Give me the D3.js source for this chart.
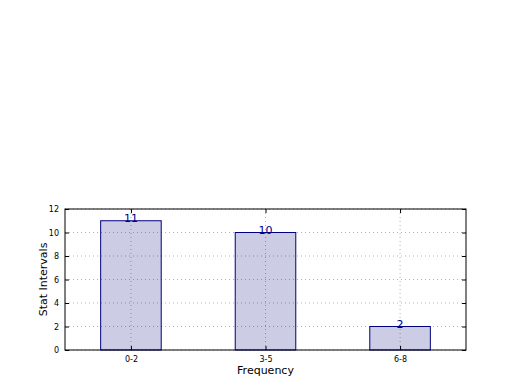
<!DOCTYPE html>
<html>
<head>
<meta charset="utf-8">
<script src="https://cdn.jsdelivr.net/npm/d3@7"></script>
<style>
  body { margin: 0; background: #fff; }
  svg { font-family: "DejaVu Sans", sans-serif; }
</style>
</head>
<body>
<div id="chart"></div>
<script>
var categories = ["0-2", "3-5", "6-8"];
var counts = [11, 10, 2];
var yTicks = [0, 2, 4, 6, 8, 10, 12];

var width = 520, height = 390;
var margin = {left: 65, right: 54, top: 209, bottom: 40};
var plotW = width - margin.left - margin.right;
var plotH = height - margin.top - margin.bottom;

var svg = d3.select("#chart")
  .append("svg")
  .attr("width", width)
  .attr("height", height);

var g = svg.append("g")
  .attr("transform", "translate(" + margin.left + "," + margin.top + ")");

var x = d3.scaleLinear().domain([-0.49, 2.49]).range([0, plotW]);
var y = d3.scaleLinear().domain([0, 12]).range([plotH, 0]);
var barW = 0.45;

// bars first, grid drawn over them (classic style)
g.selectAll(".bar")
  .data(counts)
  .enter()
    .append("rect")
      .attr("class", "bar")
      .attr("x", function(d, i) { return x(i - barW / 2); })
      .attr("y", function(d) { return y(d); })
      .attr("width", x(barW) - x(0))
      .attr("height", function(d) { return plotH - y(d); })
      .attr("fill", "#ccccE5")
      .attr("stroke", "#000080")
      .attr("stroke-width", 1);

// grid
g.selectAll(".hgrid")
  .data(yTicks)
  .enter()
    .append("line")
      .attr("x1", 0).attr("x2", plotW)
      .attr("y1", function(d) { return y(d); })
      .attr("y2", function(d) { return y(d); })
      .attr("stroke", "#000").attr("stroke-opacity", 0.3)
      .attr("stroke-dasharray", "1,3");

g.selectAll(".vgrid")
  .data(categories)
  .enter()
    .append("line")
      .attr("x1", function(d, i) { return x(i); })
      .attr("x2", function(d, i) { return x(i); })
      .attr("y1", 0).attr("y2", plotH)
      .attr("stroke", "#000").attr("stroke-opacity", 0.3)
      .attr("stroke-dasharray", "1,3");

// value labels
g.selectAll(".val")
  .data(counts)
  .enter()
    .append("text")
      .attr("x", function(d, i) { return x(i); })
      .attr("y", function(d) { return y(d) + 1; })
      .attr("text-anchor", "middle")
      .attr("font-size", "11px")
      .attr("fill", "#00008b")
      .text(function(d) { return d; });

// axes (ticks inside)
var yAxis = d3.axisLeft(y).tickValues(yTicks).tickSize(-4).tickPadding(6);
var xAxis = d3.axisBottom(x).tickValues([0, 1, 2])
  .tickFormat(function(d) { return categories[d]; })
  .tickSize(-4).tickPadding(6);

var ya = g.append("g").call(yAxis);
var xa = g.append("g").attr("transform", "translate(0," + plotH + ")").call(xAxis);
g.append("g").attr("transform", "translate(" + plotW + ",0)")
  .call(d3.axisRight(y).tickValues(yTicks).tickSize(-4).tickFormat(""));
g.append("g")
  .call(d3.axisTop(x).tickValues([0, 1, 2]).tickSize(-4).tickFormat(""));

g.selectAll(".domain").remove();
g.selectAll(".tick text").attr("font-size", "8px").attr("fill", "#000")
  .attr("font-family", "DejaVu Sans, sans-serif");
g.selectAll(".tick line").attr("stroke", "#000");

g.append("rect")
  .attr("width", plotW).attr("height", plotH)
  .attr("fill", "none").attr("stroke", "#000").attr("stroke-width", 1);

svg.append("text")
  .attr("x", margin.left + plotW / 2)
  .attr("y", 374)
  .attr("text-anchor", "middle")
  .attr("font-size", "11px")
  .text("Frequency");

svg.append("text")
  .attr("transform", "translate(47," + (margin.top + plotH / 2) + ") rotate(-90)")
  .attr("text-anchor", "middle")
  .attr("font-size", "11px")
  .text("Stat Intervals");
</script>
</body>
</html>
